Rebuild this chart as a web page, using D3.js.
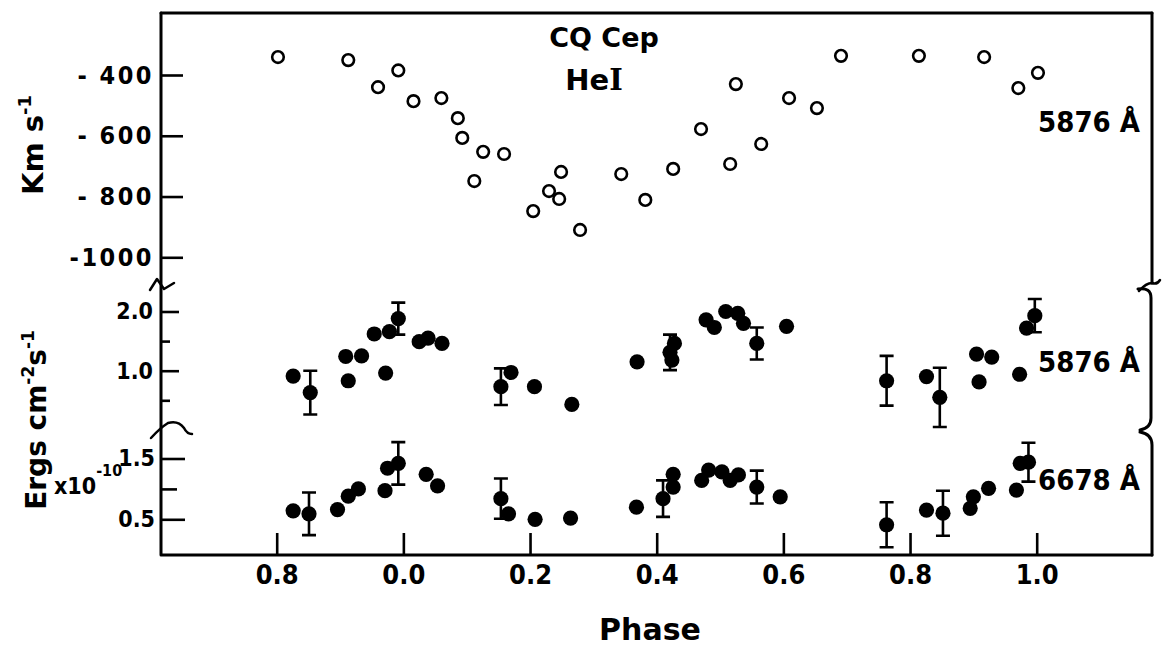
<!DOCTYPE html>
<html><head><meta charset="utf-8">
<script src="https://cdn.jsdelivr.net/npm/d3@7"></script>
<style>
body{margin:0;background:#fff}
text{fill:#000}
</style>
</head><body><svg id="c" width="1163" height="646"></svg>
<script>
// ---- data ----
const phaseTicks = [-0.2, 0.0, 0.2, 0.4, 0.6, 0.8, 1.0];
const phaseTickLabels = ["0.8", "0.0", "0.2", "0.4", "0.6", "0.8", "1.0"];
const velTicks = [-400, -600, -800, -1000];
const velTickLabels = ["- 400", "- 600", "- 800", "-1000"];
const flux1Major = [2.0, 1.0];
const flux1MajorLabels = ["2.0", "1.0"];
const flux1Minor = [1.5, 0.5];
const flux2Major = [1.5, 0.5];
const flux2MajorLabels = ["1.5", "0.5"];
const flux2Minor = [1.0];

// He I 5876 radial velocity (km/s)
const velPhase = [-0.198,-0.087,-0.040,-0.008,0.016,0.060,0.086,0.093,0.112,0.126,0.159,0.205,0.230,0.246,0.249,0.279,0.344,0.382,0.426,0.470,0.516,0.525,0.565,0.609,0.653,0.691,0.814,0.917,0.971,1.002];
const velValue = [-341,-351,-440,-385,-486,-476,-542,-607,-749,-653,-660,-848,-782,-808,-719,-910,-726,-811,-709,-578,-693,-430,-627,-476,-509,-337,-337,-341,-443,-393];

// He I 5876 flux (x1e-10 erg cm-2 s-1); err 0 = no error bar
const f5876Phase = [-0.174,-0.147,-0.091,-0.087,-0.066,-0.046,-0.028,-0.022,-0.008,0.025,0.039,0.061,0.154,0.170,0.207,0.266,0.369,0.421,0.428,0.424,0.478,0.491,0.509,0.528,0.537,0.558,0.605,0.763,0.826,0.847,0.905,0.909,0.929,0.973,0.984,0.997];
const f5876Value = [0.91,0.63,1.24,0.83,1.25,1.62,0.96,1.66,1.88,1.49,1.55,1.46,0.73,0.97,0.73,0.43,1.15,1.31,1.46,1.18,1.86,1.73,2.00,1.97,1.80,1.46,1.75,0.83,0.90,0.55,1.28,0.81,1.23,0.94,1.72,1.93];
const f5876Err   = [0,0.37,0,0,0,0,0,0,0.27,0,0,0,0.31,0,0,0,0,0.30,0,0,0,0,0,0,0,0.27,0,0.42,0,0.50,0,0,0,0,0,0.28];

// He I 6678 flux
const f6678Phase = [-0.174,-0.149,-0.104,-0.087,-0.071,-0.029,-0.025,-0.008,0.036,0.054,0.154,0.166,0.208,0.264,0.368,0.410,0.426,0.426,0.471,0.482,0.503,0.516,0.529,0.558,0.595,0.763,0.826,0.852,0.895,0.900,0.924,0.968,0.974,0.987];
const f6678Value = [0.64,0.59,0.66,0.88,1.00,0.97,1.34,1.42,1.24,1.05,0.84,0.59,0.50,0.52,0.70,0.84,1.03,1.24,1.14,1.31,1.28,1.14,1.23,1.03,0.87,0.41,0.65,0.60,0.68,0.87,1.01,0.98,1.42,1.44];
const f6678Err   = [0,0.35,0,0,0,0,0,0.35,0,0,0.33,0,0,0,0,0.30,0,0,0,0,0,0,0,0.27,0,0.37,0,0.37,0,0,0,0,0,0.32];

// ---- layout ----
const L = 161, R = 1152, T = 13, B = 555;
const svg = d3.select("#c");
const ink = "#000";
const numFont = "'DejaVu Sans Condensed', 'DejaVu Sans', sans-serif";
const titleFont = "'DejaVu Sans', sans-serif";

const x = d3.scaleLinear().domain([-0.2, 1.0]).range([276.7, 1036.7]);
const yV = d3.scaleLinear().domain([-400, -1000]).range([75, 257.3]);
const yF1 = d3.scaleLinear().domain([2.0, 1.0]).range([311.5, 370.7]);
const yF2 = d3.scaleLinear().domain([1.5, 0.5]).range([458.5, 519.3]);

// ---- frame ----
const frame = svg.append("g").attr("fill", "none").attr("stroke", ink).attr("stroke-width", 3).attr("stroke-linejoin","round").attr("stroke-linecap","round");
frame.append("path").attr("d", `M${L},${T}H${R}`);
frame.append("path").attr("d", `M${L},${T}V${B}H${R}`);
frame.append("path").attr("d", `M${R},${T}V283`);
// right break + brackets
frame.append("path").attr("stroke-width", 2.5).attr("d", `M1139,291 Q1146,283 1152,283 Q1157,285 1160,280`);
frame.append("path").attr("d", `M1138,289 Q1151,287 1151,298 V418 Q1151,428 1140,430`);
frame.append("path").attr("d", `M1140,432 Q1152,434 1152,445 V${B}`);
// left break marks
frame.append("path").attr("stroke-width", 2.5).attr("d", `M150,290 L157,279 L164,289 L174,283`);
frame.append("path").attr("stroke-width", 2.5).attr("d", `M151,438 Q160,428 168,423 Q178,420 184,428 Q187,434 192,434`);

// ---- axes ----
function styleAxis(g, fs) {
  g.select(".domain").remove();
  g.selectAll(".tick line").attr("stroke", ink).attr("stroke-width", 2.6);
  g.selectAll(".tick text").attr("fill", ink).attr("font-family", numFont).attr("font-weight", "bold").attr("font-size", fs);
}
svg.append("g").attr("transform", `translate(${L},0)`)
  .call(d3.axisLeft(yV).tickValues(velTicks).tickSizeInner(-22).tickSizeOuter(0).tickPadding(7)
    .tickFormat((d, i) => velTickLabels[i]))
  .call(g => styleAxis(g, 25))
  .call(g => g.selectAll(".tick text").attr("letter-spacing", 2.5));

svg.append("g").attr("transform", `translate(${L},0)`)
  .call(d3.axisLeft(yF1).tickValues(flux1Major).tickSizeInner(-18).tickSizeOuter(0).tickPadding(8)
    .tickFormat((d, i) => flux1MajorLabels[i]))
  .call(g => styleAxis(g, 23));
svg.append("g").attr("transform", `translate(${L},0)`)
  .call(d3.axisLeft(yF1).tickValues(flux1Minor).tickSizeInner(-9).tickSizeOuter(0).tickFormat(""))
  .call(g => styleAxis(g, 23));

svg.append("g").attr("transform", `translate(${L},0)`)
  .call(d3.axisLeft(yF2).tickValues(flux2Major).tickSizeInner(-24).tickSizeOuter(0).tickPadding(6)
    .tickFormat((d, i) => flux2MajorLabels[i]))
  .call(g => styleAxis(g, 23));
svg.append("g").attr("transform", `translate(${L},0)`)
  .call(d3.axisLeft(yF2).tickValues(flux2Minor).tickSizeInner(-16).tickSizeOuter(0).tickFormat(""))
  .call(g => styleAxis(g, 23));

svg.append("g").attr("transform", `translate(0,${B})`)
  .call(d3.axisBottom(x).tickValues(phaseTicks).tickSizeInner(-22).tickSizeOuter(0).tickPadding(10)
    .tickFormat((d, i) => phaseTickLabels[i]))
  .call(g => styleAxis(g, 27));

// ---- marks ----
const capW = 7;
function errorBars(g, ph, val, err, y) {
  const d = d3.range(ph.length).filter(i => err[i] > 0);
  const eb = g.append("g").attr("stroke", ink).attr("stroke-width", 2.6).attr("fill", "none");
  eb.selectAll("path").data(d).join("path")
    .attr("d", i => {
      const cx = x(ph[i]), y1 = y(val[i] + err[i]), y2 = y(val[i] - err[i]);
      return `M${cx - capW},${y1}H${cx + capW}M${cx},${y1}V${y2}M${cx - capW},${y2}H${cx + capW}`;
    });
}
function dots(g, ph, val, y) {
  g.append("g").selectAll("circle").data(d3.range(ph.length)).join("circle")
    .attr("cx", i => x(ph[i])).attr("cy", i => y(val[i])).attr("r", 7.6).attr("fill", ink);
}

svg.append("g").selectAll("circle").data(d3.range(velPhase.length)).join("circle")
  .attr("cx", i => x(velPhase[i])).attr("cy", i => yV(velValue[i]))
  .attr("r", 5.8).attr("fill", "none").attr("stroke", ink).attr("stroke-width", 2.6);

const p2 = svg.append("g");
errorBars(p2, f5876Phase, f5876Value, f5876Err, yF1);
dots(p2, f5876Phase, f5876Value, yF1);
const p3 = svg.append("g");
errorBars(p3, f6678Phase, f6678Value, f6678Err, yF2);
dots(p3, f6678Phase, f6678Value, yF2);

// ---- text ----
svg.append("text").attr("x", 604).attr("y", 47).attr("text-anchor", "middle")
  .attr("font-family", titleFont).attr("font-weight", "bold").attr("font-size", 27).text("CQ Cep");
const he = svg.append("text").attr("x", 594).attr("y", 90).attr("text-anchor", "middle")
  .attr("font-family", titleFont).attr("font-weight", "bold").attr("font-size", 29);
he.append("tspan").text("He");
he.append("tspan").attr("font-family", "'DejaVu Serif', serif").text("I");

function lineLabel(txt, yb) {
  svg.append("text").attr("x", 1140).attr("y", yb).attr("text-anchor", "end")
    .attr("font-family", numFont).attr("font-weight", "bold").attr("font-size", 29).text(txt);
}
lineLabel("5876 Å", 132);
lineLabel("5876 Å", 372);
lineLabel("6678 Å", 490);

// y titles
const t1 = svg.append("text").attr("transform", "translate(43,145) rotate(-90)").attr("text-anchor", "middle")
  .attr("font-family", titleFont).attr("font-weight", "bold").attr("font-size", 29);
t1.append("tspan").text("Km s");
t1.append("tspan").attr("font-size", 18).attr("dy", -12).text("-1");

const t2 = svg.append("text").attr("transform", "translate(46,420) rotate(-90)").attr("text-anchor", "middle")
  .attr("font-family", titleFont).attr("font-weight", "bold").attr("font-size", 28);
t2.append("tspan").text("Ergs cm");
t2.append("tspan").attr("font-size", 17).attr("dy", -12).text("-2");
t2.append("tspan").attr("dy", 12).text("s");
t2.append("tspan").attr("font-size", 17).attr("dy", -12).text("-1");

const xt = svg.append("text").attr("x", 54).attr("y", 494)
  .attr("font-family", numFont).attr("font-weight", "bold").attr("font-size", 23);
xt.append("tspan").text("x10");
xt.append("tspan").attr("font-size", 16).attr("dy", -18).text("-10");

svg.append("text").attr("x", 650).attr("y", 640).attr("text-anchor", "middle")
  .attr("font-family", titleFont).attr("font-weight", "bold").attr("font-size", 30).text("Phase");
</script>
</body></html>
